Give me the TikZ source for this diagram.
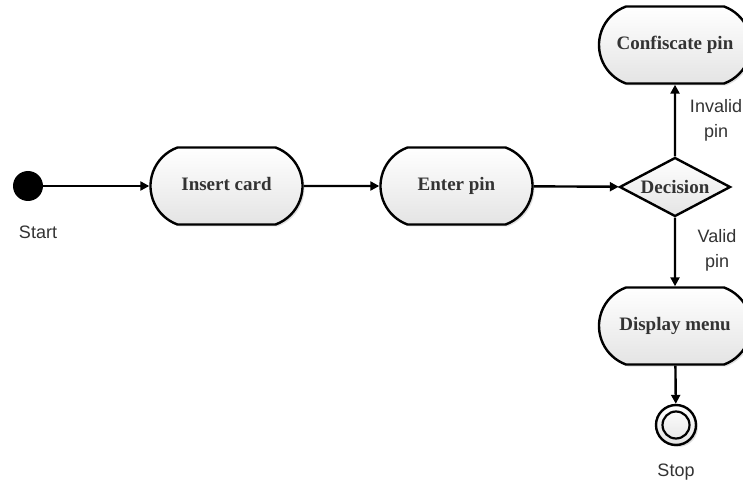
\documentclass[tikz,border=0pt]{standalone}
\usepackage{fontspec}
\setmainfont{Liberation Serif}
\newfontfamily\labelfont{Liberation Sans}
\usetikzlibrary{arrows.meta,shapes.geometric,shapes.misc,shadows}
\definecolor{ink}{HTML}{333333}
\definecolor{fillbot}{HTML}{E4E4E4}
\tikzset{
  flow/.style={line width=2.4pt, -{Triangle[length=9pt,width=9pt]}},
  activity/.style={rounded rectangle, rounded rectangle arc length=140, draw, line width=2.4pt,
    minimum width=152pt, minimum height=77pt, inner sep=0pt,
    text height=13pt, text depth=4pt,
    top color=white, bottom color=fillbot,
    drop shadow={shadow xshift=2pt, shadow yshift=-2pt, opacity=0.25},
    font=\bfseries\fontsize{19}{22}\selectfont, text=ink},
  choice/.style={diamond, draw, line width=2.4pt, aspect=1.88,
    minimum width=111pt, minimum height=59pt, inner sep=0pt,
    top color=white, bottom color=fillbot,
    font=\bfseries\fontsize{19}{22}\selectfont, text=ink},
  caption/.style={font=\labelfont\fontsize{18}{25}\selectfont, text=ink, align=center},
}
\begin{document}
\begin{tikzpicture}[x=1pt,y=1pt]
  \useasboundingbox (0,0) rectangle (743,485);
  \clip (0,0) rectangle (743,485);
  \fill[white] (0,0) rectangle (743,485);

  % initial node
  \node (start) [circle, fill=black, minimum size=30pt, inner sep=0pt] at (28,299) {};
  \node (startlbl) [caption] at (38,253) {Start};

  % activities
  \node (insert) [activity] at (226.5,299) {Insert card};
  \node (enter) [activity] at (456.5,299) {Enter pin};
  \node (decision) [choice] at (675,298) {Decision};
  \node (confiscate) [activity] at (675,440) {Confiscate pin};
  \node (display) [activity] at (675,159) {Display menu};

  % final node
  \node (stop) [circle, draw, line width=2.4pt, minimum size=40pt, inner sep=0pt,
    top color=white, bottom color=fillbot,
    drop shadow={shadow xshift=2pt, shadow yshift=-2pt, opacity=0.25}] at (676,60) {};
  \node (stopin) [circle, draw, line width=2.2pt, minimum size=27pt, inner sep=0pt] at (stop.center) {};
  \node (stoplbl) [caption] at (676,13) {Stop};

  % transitions
  \draw[flow] (start) -- (insert);
  \draw[flow] (insert) -- (enter);
  \draw[flow] (enter) -- (decision);
  \draw[flow] (decision) -- (confiscate);
  \draw[flow] (decision) -- (display);
  \draw[flow] (display) -- (stop);

  % guard labels
  \node (invalid) [caption] at (716,365) {Invalid\\pin};
  \node (valid) [caption] at (717,235) {Valid\\pin};
\end{tikzpicture}
\end{document}
